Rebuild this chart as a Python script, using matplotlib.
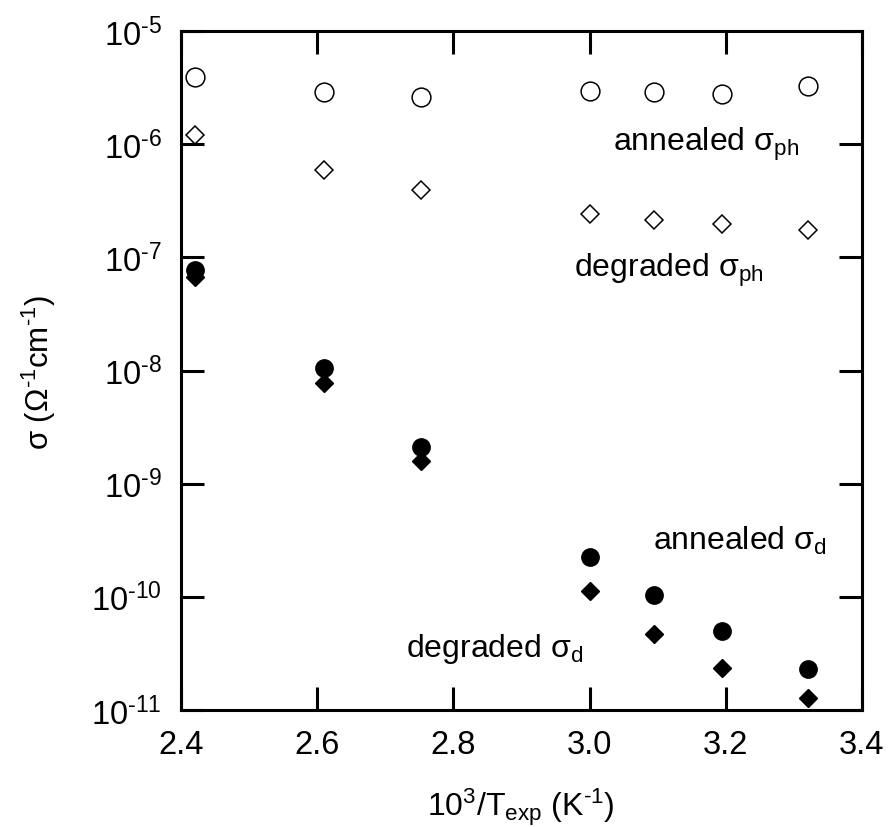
import math
import matplotlib
matplotlib.use("Agg")
import matplotlib.pyplot as plt
from matplotlib.ticker import FixedLocator, FuncFormatter

plt.rcParams['font.family'] = ['Liberation Sans', 'DejaVu Sans']
plt.rcParams['mathtext.fontset'] = 'custom'
plt.rcParams['mathtext.rm'] = 'Liberation Sans'
plt.rcParams['mathtext.it'] = 'Liberation Sans:italic'
plt.rcParams['mathtext.bf'] = 'Liberation Sans:bold'

# inverse temperature, 10^3/T (1/K)
inv_T = [2.42, 2.61, 2.753, 3.001, 3.094, 3.194, 3.320]

# conductivities (1/(Ohm cm))
annealed_ph = [3.95e-6, 2.87e-6, 2.63e-6, 2.93e-6, 2.91e-6, 2.76e-6, 3.25e-6]
degraded_ph = [1.21e-6, 5.92e-7, 3.92e-7, 2.40e-7, 2.13e-7, 1.97e-7, 1.75e-7]
annealed_d = [7.74e-8, 1.05e-8, 2.13e-9, 2.27e-10, 1.03e-10, 4.94e-11, 2.31e-11]
degraded_d = [6.67e-8, 7.73e-9, 1.58e-9, 1.13e-10, 4.71e-11, 2.34e-11, 1.28e-11]

x_ticks = [2.4, 2.6, 2.8, 3.0, 3.2, 3.4]
y_exps = [-11, -10, -9, -8, -7, -6, -5]

fig = plt.figure(figsize=(8.88, 8.28), dpi=100)
ax = fig.add_axes([181/888, 117/828, 681/888, 679/828])

ax.plot(inv_T, annealed_ph, 'o', ms=13.5, mfc='white', mec='black', mew=1.1, ls='none')
ax.plot(inv_T, degraded_ph, 'D', ms=9.5, mfc='white', mec='black', mew=1.1, ls='none')
ax.plot(inv_T, annealed_d, 'o', ms=12.5, mfc='black', mec='black', mew=1, ls='none')
ax.plot(inv_T, degraded_d, 'D', ms=9.5, mfc='black', mec='black', mew=1, ls='none')

ax.set_yscale('log')
ax.set_xlim(2.4, 3.4)
ax.set_ylim(1e-11, 1e-5)


def pow_label(v, pos):
    return r"$\mathrm{10}^{\text{%d}}$" % round(math.log10(v))


ax.xaxis.set_major_locator(FixedLocator(x_ticks))
ax.xaxis.set_major_formatter(FuncFormatter(lambda v, p: f"{v:.1f}"))
ax.yaxis.set_major_locator(FixedLocator([10.0**e for e in y_exps]))
ax.yaxis.set_major_formatter(FuncFormatter(pow_label))
ax.yaxis.set_minor_locator(FixedLocator([]))
ax.xaxis.set_minor_locator(FixedLocator([]))

ax.tick_params(which='major', direction='in', length=16.5, width=2.2,
               top=True, right=True, labelsize=23.5)
ax.tick_params(axis='x', pad=14)
ax.tick_params(axis='y', pad=14)
for s in ax.spines.values():
    s.set_linewidth(2.2)

# axis titles
fig.text(521/888, 1 - 816/828, r"10$^\text{3}$/T$_\mathrm{exp}$ (K$^\text{-1}$)",
         fontsize=23, ha='center', va='baseline')
fig.text(39/888, 1 - 372/828, r"σ (Ω$^\text{-1}$cm$^\text{-1}$)",
         fontsize=22.5, ha='center', va='center', rotation=90)


# curve labels, placed in pixel positions of the axes box
def px(x, y):
    return ((x - 181) / 681, (711 - y) / 679)


labels = [
    ("annealed σ$_\\mathrm{ph}$", 613, 151),
    ("degraded σ$_\\mathrm{ph}$", 574, 277),
    ("annealed σ$_\\mathrm{d}$", 653, 550),
    ("degraded σ$_\\mathrm{d}$", 406, 657),
]
for txt, x, y in labels:
    ax.text(*px(x, y), txt, transform=ax.transAxes, fontsize=23,
            ha='left', va='baseline')

fig.savefig("out.png", dpi=100)
